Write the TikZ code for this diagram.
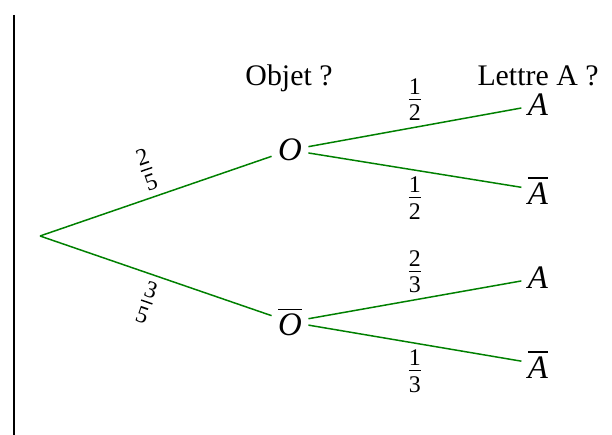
\documentclass[tikz,border=0pt]{standalone}
\usepackage{fontspec}
\usepackage{amsmath}
\setmainfont{Liberation Serif}

\newcommand*{\fr}[2]{$\frac{\text{#1}}{\text{#2}}$}
\newcommand*{\nonev}[1]{$\overline{\textit{#1}}$}

\begin{document}
\begin{tikzpicture}
[
	x=0.335pt, y=-0.335pt,
	branch/.style={green!50!black, line width=0.5pt},
	event/.style={inner sep=2pt, font=\fontsize{11}{13}\selectfont},
	prob/.style={inner sep=2pt, text=black, font=\large}
]

	\useasboundingbox (0,0) rectangle (612,435);

	% margin
	\draw[line width=1pt] (14,15) -- (14,435);

	% headings
	\node at (289,78) (hobj) {Objet ?};
	\node at (538,76) (hlet) {Lettre A ?};

	% events
	\coordinate (root) at (40,236);
	\node[event] at (290,150) (o) {\textit{O}};
	\node[event] at (290,322) (no) {\nonev{O}};
	\node[event] at (538,105) (oa) {\textit{A}};
	\node[event] at (538,190) (ona) {\nonev{A}};
	\node[event] at (538,278) (noa) {\textit{A}};
	\node[event] at (538,364) (nona) {\nonev{A}};

	% branches
	\draw[branch] (root) -- node[prob,sloped,above] {\fr{2}{5}} (o);
	\draw[branch] (root) -- node[prob,sloped,below] {\fr{3}{5}} (no);
	\draw[branch] (o) -- node[prob,above] {\fr{1}{2}} (oa);
	\draw[branch] (o) -- node[prob,below] {\fr{1}{2}} (ona);
	\draw[branch] (no) -- node[prob,above] {\fr{2}{3}} (noa);
	\draw[branch] (no) -- node[prob,below] {\fr{1}{3}} (nona);

\end{tikzpicture}
\end{document}
